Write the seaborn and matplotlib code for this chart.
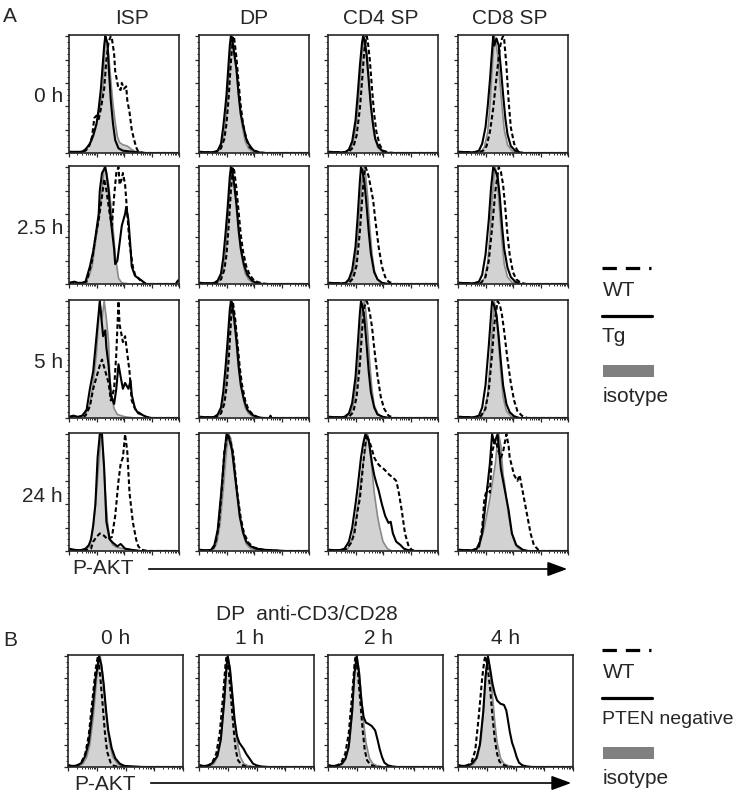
import numpy as np
import pandas as pd
import matplotlib
matplotlib.use("Agg")
import matplotlib.pyplot as plt
import seaborn as sns

sns.set_style("ticks")
plt.rcParams['font.family'] = ['Liberation Sans', 'DejaVu Sans']

# histogram curves, (channel 0-100, % of max)
# ---- A, 0 h
isp_0h_iso = [(0,1),(8,0.5),(13,2),(17,5),(21,11),(24,20),(27,33),(29,42),(31,58),(32,80),(33,100),(34,96),(36,85),(38,62),(40,42),(42,26),(44,14),(46,9),(49,7),(53,6),(57,3),(61,1),(66,0),(100,0)]
isp_0h_tg = [(0,1),(6,1),(12,1),(15,3),(19,8),(22,15),(25,25),(27,38),(29,55),(31,80),(32,92),(33,100),(34,97),(35,94),(36,75),(38,45),(40,25),(42,11),(45,4),(49,2),(58,1),(70,0),(100,0)]
isp_0h_wt = [(0,1),(10,0.5),(15,2),(18,5),(21,14),(23,30),(25,32),(27,29),(29,38),(32,55),(34,80),(36,95),(38,100),(39,98),(41,85),(42,70),(45,55),(47,54),(48,60),(50,55),(52,57),(53,45),(55,35),(57,20),(59,12),(61,5),(63,1),(68,0),(100,0)]
dp_0h_iso = [(0,1),(12,0.5),(16,1),(19,3),(22,12),(24,25),(26,48),(28,80),(30,100),(31,96),(33,82),(35,62),(37,40),(39,24),(42,10),(45,4),(49,1),(55,0),(100,0)]
dp_0h_tg = [(0,1),(10,0.5),(14,1),(17,2),(20,8),(22,22),(24,40),(25,50),(27,78),(28,92),(29,100),(30,98),(32,85),(34,72),(36,50),(38,33),(41,20),(43,12),(45,8),(48,4),(50,2),(55,0.5),(60,0),(100,0)]
dp_0h_wt = [(0,1),(12,0.5),(16,1),(20,4),(23,12),(25,25),(27,48),(29,78),(31,100),(32,98),(34,82),(36,60),(38,40),(40,25),(43,12),(46,5),(50,2),(55,0.5),(60,0),(100,0)]
cd4_0h_iso = [(0,1),(12,0.5),(17,1),(21,4),(24,14),(27,35),(29,60),(31,85),(33,100),(34,96),(36,78),(38,52),(40,30),(42,15),(45,5),(49,1),(55,0),(100,0)]
cd4_0h_tg = [(0,1),(12,0.5),(16,1),(19,3),(22,10),(25,28),(27,50),(29,75),(31,95),(32,100),(33,97),(35,85),(37,62),(39,40),(41,24),(43,12),(46,5),(50,1.5),(55,0),(100,0)]
cd4_0h_wt = [(0,1),(14,0.5),(19,1),(23,5),(26,15),(29,38),(31,62),(33,88),(35,100),(36,97),(38,80),(40,55),(42,33),(44,18),(47,7),(50,2),(55,0.5),(60,0),(100,0)]
cd8_0h_iso = [(0,1),(15,0.5),(21,1),(24,5),(27,18),(29,40),(31,70),(33,100),(34,96),(36,85),(38,62),(40,40),(42,20),(45,7),(49,2),(55,0),(100,0)]
cd8_0h_tg = [(0,1),(14,0.5),(19,2),(22,8),(25,22),(27,40),(29,62),(31,88),(32,100),(33,92),(35,98),(37,92),(39,72),(41,50),(43,30),(45,16),(48,6),(52,2),(58,0),(100,0)]
cd8_0h_wt = [(0,1),(18,0.5),(23,2),(26,6),(29,18),(32,38),(35,65),(38,90),(40,98),(41,100),(42,97),(44,75),(46,45),(48,22),(51,8),(54,2),(59,0),(100,0)]
# ---- A, 2.5 h
isp_2h_iso = [(0,1),(10,0.5),(15,2),(18,6),(21,15),(24,35),(27,55),(30,80),(32,100),(34,95),(36,85),(39,60),(42,25),(45,5),(48,1),(55,0),(100,0)]
isp_2h_tg = [(0,1),(5,2),(8,1),(12,1),(15,2),(19,15),(22,28),(24,40),(27,60),(28,80),(30,95),(33,100),(34,95),(36,80),(38,55),(41,30),(42,17),(44,20),(46,35),(48,50),(51,60),(52,66),(54,55),(56,30),(57,15),(60,7),(63,5),(66,3),(70,0),(97,0),(99,3),(100,3)]
isp_2h_wt = [(0,1),(10,0.5),(16,2),(21,20),(24,40),(27,55),(30,75),(32,90),(34,80),(37,60),(39,50),(41,75),(43,95),(45,100),(46,85),(48,90),(49,95),(51,85),(53,60),(55,35),(58,15),(60,8),(63,5),(66,2),(70,0),(100,0)]
dp_2h_iso = [(0,1),(12,0.5),(16,1),(19,3),(22,12),(24,26),(26,50),(28,82),(30,100),(31,96),(33,80),(35,60),(37,38),(39,22),(42,9),(45,4),(49,1),(55,0),(100,0)]
dp_2h_tg = [(0,1),(10,0.5),(14,1),(17,3),(20,9),(22,22),(24,42),(26,65),(28,92),(29,100),(30,97),(32,85),(34,68),(36,46),(38,30),(41,16),(44,8),(48,3),(52,1),(58,0),(100,0)]
dp_2h_wt = [(0,1),(12,0.5),(16,1),(20,4),(23,12),(25,25),(27,50),(29,80),(31,100),(32,97),(34,82),(36,62),(38,42),(40,28),(43,15),(46,8),(50,3),(54,1.5),(58,0.5),(62,0),(100,0)]
cd4_2h_iso = [(0,1),(12,0.5),(17,1),(21,4),(24,14),(27,38),(29,65),(31,90),(33,100),(34,95),(36,75),(38,48),(40,26),(42,12),(45,4),(49,1),(55,0),(100,0)]
cd4_2h_tg = [(0,1),(12,0.5),(16,1),(19,4),(22,12),(25,32),(27,58),(29,88),(30,100),(31,98),(33,88),(35,68),(37,45),(39,26),(42,10),(45,4),(49,1),(55,0),(100,0)]
cd4_2h_wt = [(0,1),(14,0.5),(19,1),(23,5),(26,16),(29,45),(31,72),(33,95),(34,100),(35,98),(37,92),(39,82),(41,72),(43,55),(46,32),(49,15),(52,6),(55,2),(60,0),(100,0)]
cd8_2h_iso = [(0,1),(15,0.5),(21,1),(24,5),(27,18),(29,42),(31,72),(33,95),(34,100),(36,85),(38,60),(40,36),(42,17),(45,6),(49,1.5),(55,0),(100,0)]
cd8_2h_tg = [(0,1),(14,0.5),(19,2),(22,8),(25,25),(28,55),(30,82),(32,100),(34,97),(36,92),(38,75),(40,50),(42,30),(45,14),(48,6),(52,2),(57,0),(100,0)]
cd8_2h_wt = [(0,1),(16,0.5),(21,1),(25,6),(28,20),(31,48),(34,80),(37,100),(39,96),(41,85),(43,65),(45,42),(47,25),(50,10),(53,4),(57,1),(62,0),(100,0)]
# ---- A, 5 h
isp_5h_iso = [(0,1),(8,0.5),(12,2),(16,5),(19,12),(22,30),(25,55),(27,85),(28,100),(30,85),(32,100),(34,85),(36,65),(37,35),(39,18),(41,8),(44,3),(51,1),(60,0),(100,0)]
isp_5h_tg = [(0,1),(4,2),(8,1),(12,2),(16,7),(19,25),(22,40),(24,60),(26,80),(28,100),(30,80),(31,70),(33,75),(34,60),(36,45),(38,20),(41,12),(43,25),(45,46),(47,35),(49,25),(51,30),(54,25),(56,32),(57,20),(60,8),(63,4),(66,3),(70,1),(75,0),(100,0)]
isp_5h_wt = [(0,1),(5,1),(10,0.5),(15,2),(19,10),(22,25),(25,35),(28,45),(30,50),(33,40),(36,30),(38,15),(41,25),(43,55),(45,100),(46,80),(49,65),(51,70),(53,55),(55,40),(57,15),(60,8),(63,5),(66,3),(70,1),(75,0),(100,0)]
dp_5h_iso = [(0,1),(12,0.5),(16,1),(19,3),(22,12),(24,25),(26,49),(28,82),(30,100),(31,96),(33,81),(35,61),(37,39),(39,23),(42,9),(45,4),(49,1),(55,0),(100,0)]
dp_5h_tg = [(0,1),(10,0.5),(14,1),(17,3),(20,9),(22,22),(24,42),(26,66),(28,93),(29,100),(30,97),(32,84),(34,66),(36,44),(38,28),(41,15),(44,7),(48,3),(52,1),(58,0),(100,0)]
dp_5h_wt = [(0,1),(12,0.5),(16,1),(20,4),(23,12),(25,26),(27,50),(29,82),(30,100),(31,98),(33,84),(35,64),(37,44),(39,29),(42,15),(45,7),(49,3),(53,1),(58,0),(64,0),(65,2),(66,0),(100,0)]
cd4_5h_iso = [(0,1),(12,0.5),(17,1),(21,5),(24,16),(27,40),(29,67),(31,92),(33,100),(34,95),(36,74),(38,46),(40,24),(42,11),(45,4),(49,1),(55,0),(100,0)]
cd4_5h_tg = [(0,1),(10,0.5),(15,1),(19,4),(22,13),(25,35),(27,62),(29,90),(30,100),(31,97),(33,86),(35,64),(37,40),(39,22),(42,9),(45,3),(50,1),(56,0),(100,0)]
cd4_5h_wt = [(0,1),(14,0.5),(19,1),(23,5),(26,18),(29,46),(31,75),(33,95),(35,100),(36,98),(38,90),(40,78),(42,60),(45,36),(48,18),(51,8),(55,2),(60,0),(100,0)]
cd8_5h_iso = [(0,1),(15,0.5),(21,1),(24,6),(27,20),(29,45),(31,75),(33,100),(35,88),(37,62),(39,38),(41,18),(44,6),(48,1.5),(54,0),(100,0)]
cd8_5h_tg = [(0,1),(14,0.5),(19,2),(22,9),(25,28),(28,62),(30,88),(31,100),(33,96),(35,88),(37,70),(39,48),(41,28),(44,12),(47,5),(51,1.5),(56,0),(100,0)]
cd8_5h_wt = [(0,1),(16,0.5),(21,2),(25,8),(28,24),(31,55),(33,80),(36,100),(38,97),(40,88),(42,74),(45,50),(48,30),(51,15),(54,6),(58,2),(63,0),(100,0)]
# ---- A, 24 h
isp_24h_iso = [(0,1),(10,0.5),(15,1),(19,4),(22,20),(25,50),(28,85),(29,100),(31,85),(33,50),(35,25),(37,10),(40,5),(44,3),(49,2),(57,1),(65,0),(100,0)]
isp_24h_tg = [(0,2),(5,1),(10,0.5),(15,2),(18,5),(20,10),(22,22),(24,40),(26,80),(28,100),(30,100),(32,70),(34,25),(37,10),(40,7),(44,4),(47,6),(51,2),(57,1),(65,0),(100,0)]
isp_24h_wt = [(0,1),(10,0.5),(17,1),(20,2),(22,8),(25,12),(28,15),(30,14),(32,13),(35,10),(39,12),(42,30),(45,60),(47,75),(49,80),(51,100),(53,85),(55,50),(58,25),(61,10),(63,4),(66,1),(72,0),(100,0)]
dp_24h_iso = [(0,1),(10,0.5),(13,1),(16,6),(19,22),(22,52),(25,86),(27,100),(29,96),(31,84),(33,66),(35,48),(37,30),(40,15),(43,6),(47,2),(55,0.5),(62,0),(100,0)]
dp_24h_tg = [(0,1),(8,0.5),(11,1),(14,5),(17,18),(20,48),(23,82),(25,100),(27,98),(30,86),(32,70),(35,46),(37,30),(40,16),(43,8),(47,4),(52,2),(60,1),(70,0.5),(78,0),(100,0)]
dp_24h_wt = [(0,1),(9,0.5),(12,1),(15,6),(18,22),(21,56),(23,85),(26,100),(28,96),(31,84),(33,66),(35,48),(38,28),(41,15),(45,7),(50,3),(58,1),(66,0.5),(75,0),(100,0)]
cd4_24h_iso = [(0,1),(12,0.5),(18,2),(22,10),(25,25),(28,45),(30,62),(33,82),(35,95),(36,100),(38,88),(40,70),(42,50),(45,30),(47,20),(50,8),(54,2),(58,0),(100,0)]
cd4_24h_tg = [(0,1),(10,0.5),(15,2),(19,8),(22,20),(25,40),(27,55),(30,80),(32,92),(34,100),(36,96),(37,95),(40,75),(42,65),(44,58),(46,52),(49,40),(52,30),(55,24),(57,25),(59,15),(62,8),(66,5),(69,2),(72,1),(78,0),(100,0)]
cd4_24h_wt = [(0,1),(12,0.5),(17,2),(21,7),(24,15),(27,35),(29,45),(32,75),(34,92),(35,100),(37,95),(39,90),(42,80),(45,75),(48,72),(51,70),(54,67),(56,65),(59,63),(62,60),(64,52),(67,35),(70,15),(73,5),(76,1),(79,0),(100,0)]
cd8_24h_iso = [(0,1),(15,0.5),(19,3),(24,20),(29,45),(34,75),(36,95),(37,100),(39,90),(41,65),(42,60),(44,45),(46,30),(49,15),(52,6),(54,3),(58,1),(62,0),(100,0)]
cd8_24h_tg = [(0,1),(12,0.5),(17,2),(20,8),(22,15),(25,40),(29,75),(31,100),(33,92),(34,95),(36,100),(39,70),(42,55),(46,35),(49,15),(53,5),(56,3),(59,1),(64,0),(100,0)]
cd8_24h_wt = [(0,1),(14,0.5),(19,3),(22,20),(24,45),(27,55),(29,50),(31,85),(34,95),(37,85),(39,80),(41,85),(44,100),(46,90),(47,80),(51,65),(54,60),(56,65),(59,50),(63,30),(66,15),(69,5),(73,1),(76,0),(100,0)]
# ---- B, DP anti-CD3/CD28
b_0h_iso = [(0,1),(6,0.5),(10,1),(13,3),(16,8),(19,20),(22,45),(25,80),(28,100),(30,85),(32,62),(34,40),(36,22),(39,9),(43,3),(47,0.5),(52,0),(100,0)]
b_0h_pten = [(0,2),(3,1),(8,1),(12,4),(15,10),(18,22),(21,48),(24,80),(27,100),(29,92),(31,75),(33,52),(35,33),(38,17),(41,8),(45,3),(49,1),(57,0.5),(65,0),(100,0)]
b_0h_wt = [(0,1),(5,0.5),(9,2),(12,5),(15,12),(18,28),(21,58),(24,88),(26,100),(28,82),(30,58),(32,32),(34,14),(37,4),(40,1),(46,0),(100,0)]
b_1h_iso = [(0,1),(6,0.5),(10,1),(13,3),(16,9),(19,24),(21,48),(23,80),(25,100),(27,88),(29,66),(31,42),(33,24),(36,9),(39,3),(43,1),(48,0),(100,0)]
b_1h_pten = [(0,2),(3,1),(8,1),(12,4),(16,10),(19,25),(22,60),(24,92),(25,100),(27,88),(29,65),(31,42),(33,28),(35,22),(37,19),(39,16),(41,12),(43,9),(45,6),(47,3),(50,1.5),(54,0.5),(60,0),(100,0)]
b_1h_wt = [(0,1),(5,0.5),(9,2),(12,5),(15,12),(18,30),(21,65),(23,92),(24,100),(26,85),(28,60),(30,35),(32,15),(34,6),(37,2),(41,0.5),(46,0),(100,0)]
b_2h_iso = [(0,1),(6,0.5),(10,1),(13,3),(16,9),(19,24),(21,50),(23,82),(25,100),(27,88),(29,64),(31,40),(33,22),(36,8),(39,3),(43,1),(48,0),(100,0)]
b_2h_pten = [(0,2),(3,1),(8,1),(12,3),(15,7),(18,18),(21,50),(23,85),(25,100),(27,85),(29,60),(31,45),(33,40),(35,39),(38,37),(41,33),(43,25),(45,16),(47,9),(49,4),(52,1.5),(56,0.5),(60,0),(100,0)]
b_2h_wt = [(0,1),(5,0.5),(9,2),(12,5),(15,12),(18,30),(21,65),(23,92),(24,100),(26,85),(28,60),(30,35),(32,15),(34,6),(37,2),(41,0.5),(46,0),(100,0)]
b_4h_iso = [(0,1),(6,0.5),(10,1),(14,3),(17,9),(20,24),(22,50),(24,82),(26,100),(28,88),(30,64),(32,40),(34,22),(37,8),(40,3),(44,1),(49,0),(100,0)]
b_4h_pten = [(0,2),(3,1),(8,1),(12,3),(16,8),(19,20),(22,50),(24,82),(26,100),(28,88),(30,75),(32,66),(34,60),(37,57),(40,56),(42,51),(43,45),(45,32),(47,22),(49,16),(51,9),(53,4),(56,1.5),(60,0.5),(65,0),(100,0)]
b_4h_wt = [(0,1),(5,0.5),(9,2),(12,5),(15,15),(18,45),(21,80),(23,97),(24,100),(26,88),(28,70),(30,45),(32,25),(34,12),(36,5),(39,2),(43,0.5),(48,0),(100,0)]

rows_a = ["0 h", "2.5 h", "5 h", "24 h"]
cols_a = ["ISP", "DP", "CD4 SP", "CD8 SP"]
curves_a = [
    [(isp_0h_iso, isp_0h_tg, isp_0h_wt), (dp_0h_iso, dp_0h_tg, dp_0h_wt),
     (cd4_0h_iso, cd4_0h_tg, cd4_0h_wt), (cd8_0h_iso, cd8_0h_tg, cd8_0h_wt)],
    [(isp_2h_iso, isp_2h_tg, isp_2h_wt), (dp_2h_iso, dp_2h_tg, dp_2h_wt),
     (cd4_2h_iso, cd4_2h_tg, cd4_2h_wt), (cd8_2h_iso, cd8_2h_tg, cd8_2h_wt)],
    [(isp_5h_iso, isp_5h_tg, isp_5h_wt), (dp_5h_iso, dp_5h_tg, dp_5h_wt),
     (cd4_5h_iso, cd4_5h_tg, cd4_5h_wt), (cd8_5h_iso, cd8_5h_tg, cd8_5h_wt)],
    [(isp_24h_iso, isp_24h_tg, isp_24h_wt), (dp_24h_iso, dp_24h_tg, dp_24h_wt),
     (cd4_24h_iso, cd4_24h_tg, cd4_24h_wt), (cd8_24h_iso, cd8_24h_tg, cd8_24h_wt)],
]
cols_b = ["0 h", "1 h", "2 h", "4 h"]
curves_b = [(b_0h_iso, b_0h_pten, b_0h_wt), (b_1h_iso, b_1h_pten, b_1h_wt),
            (b_2h_iso, b_2h_pten, b_2h_wt), (b_4h_iso, b_4h_pten, b_4h_wt)]

W, H = 742, 798
FS = 15


def box(left, top, width, height):
    # pixel box -> figure fraction
    return [left / W, 1 - (top + height) / H, width / W, height / H]


def draw_panel(ax, iso, solid, dashed):
    d_iso = pd.DataFrame(iso, columns=["ch", "pct"])
    ax.fill_between(d_iso["ch"], d_iso["pct"], color="#d2d2d2", lw=0)
    sns.lineplot(data=d_iso, x="ch", y="pct", ax=ax, color="#8a8a8a", lw=1.2)
    sns.lineplot(data=pd.DataFrame(solid, columns=["ch", "pct"]), x="ch", y="pct",
                 ax=ax, color="k", lw=1.5)
    sns.lineplot(data=pd.DataFrame(dashed, columns=["ch", "pct"]), x="ch", y="pct",
                 ax=ax, color="k", lw=1.5, linestyle=(0, (2.2, 1.3)))
    ax.set_xlim(0, 100)
    ax.set_ylim(0, 101)
    ax.set_xlabel("")
    ax.set_ylabel("")
    ax.set_xticks([0, 25, 50, 75, 100])
    ax.set_xticks([d + 25 * np.log10(k) for d in (0, 25, 50, 75) for k in range(2, 10)], minor=True)
    ax.set_yticks([0, 20, 40, 60, 80, 100])
    ax.set_yticks(range(0, 101, 5), minor=True)
    ax.tick_params(which="major", direction="out", length=3, width=0.9,
                   labelbottom=False, labelleft=False)
    ax.tick_params(which="minor", direction="out", length=1.6, width=0.7)
    for s in ax.spines.values():
        s.set_linewidth(1.2)
        s.set_visible(True)


fig = plt.figure(figsize=(W / 100, H / 100), dpi=100)

a_left = [69, 199, 328, 458]
a_top = [35, 166, 300, 433]
for r in range(4):
    for c in range(4):
        ax = fig.add_axes(box(a_left[c], a_top[r], 110, 118))
        draw_panel(ax, *curves_a[r][c])

b_left = [68, 199, 328, 458]
for c in range(4):
    ax = fig.add_axes(box(b_left[c], 655, 115, 112))
    draw_panel(ax, *curves_b[c])

# overlay in pixel coordinates for labels, legends and arrows
ov = fig.add_axes([0, 0, 1, 1])
ov.set_xlim(0, W)
ov.set_ylim(H, 0)
ov.axis("off")

ov.text(3, 16, "A", fontsize=FS, va="center", ha="left")
for x, t in zip([132, 254, 381, 510], cols_a):
    ov.text(x, 18, t, fontsize=FS, ha="center", va="center")
for y, t in zip([97, 229, 362, 496], rows_a):
    ov.text(63, y, t, fontsize=FS, ha="right", va="center")
ov.text(72, 569, "P-AKT", fontsize=FS, ha="left", va="center")
ov.annotate("", xy=(570, 569), xytext=(146, 569),
            arrowprops=dict(arrowstyle="-|>,head_length=0.6,head_width=0.22",
                            mutation_scale=20, lw=1.2, color="k"))

ov.text(307, 614, "DP  anti-CD3/CD28", fontsize=FS, ha="center", va="center")
ov.text(3, 641, "B", fontsize=FS, va="center", ha="left")
for x, t in zip([116, 250, 378, 506], cols_b):
    ov.text(x, 639, t, fontsize=FS, ha="center", va="center")
ov.text(74, 784, "P-AKT", fontsize=FS, ha="left", va="center")
ov.annotate("", xy=(574, 783), xytext=(148, 783),
            arrowprops=dict(arrowstyle="-|>,head_length=0.6,head_width=0.22",
                            mutation_scale=20, lw=1.2, color="k"))

# legends
def legend(y0, label2, size2):
    ov.plot([602, 651], [y0, y0], color="k", lw=2.3, linestyle=(0, (4.5, 2.8)))
    ov.text(603, y0 + 23, "WT", fontsize=FS, ha="left", va="center")
    ov.plot([602, 652], [y0 + 48, y0 + 48], color="k", lw=2.3)
    ov.text(602, y0 + 69, label2, fontsize=size2, ha="left", va="center")
    ov.add_patch(plt.Rectangle((603, y0 + 97), 51, 12, color="#808080", lw=0))
    ov.text(603, y0 + 129, "isotype", fontsize=FS, ha="left", va="center")

legend(268, "Tg", FS)
legend(650, "PTEN negative", 14)

fig.savefig("out.png", dpi=100)
